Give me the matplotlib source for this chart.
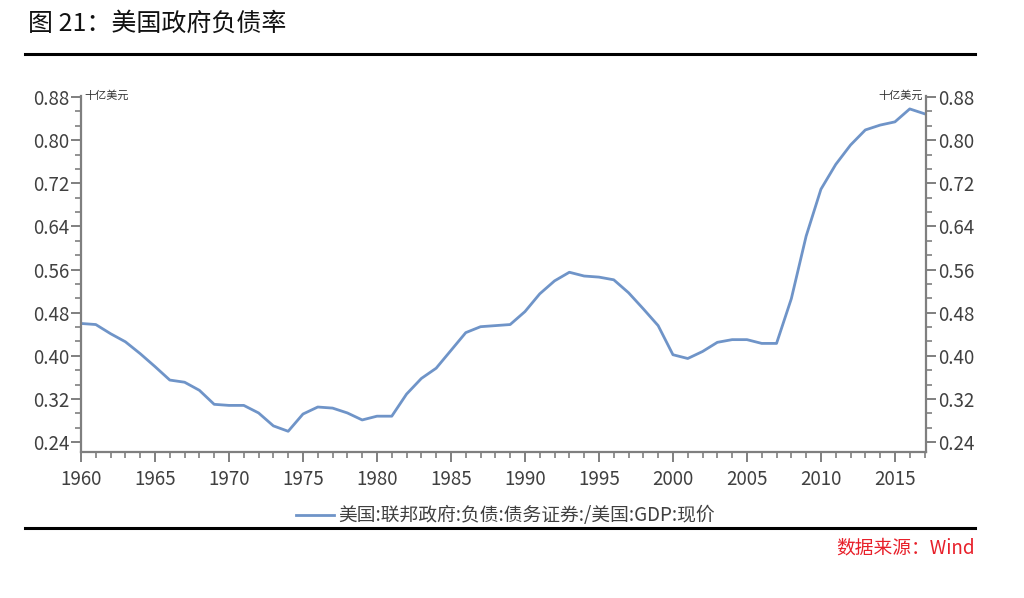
import matplotlib
matplotlib.use("Agg")
import matplotlib.pyplot as plt
from matplotlib.ticker import MultipleLocator
from matplotlib.lines import Line2D

plt.rcParams["font.family"] = ["Noto Sans CJK SC", "DejaVu Sans"]

# ── data ─────────────────────────────────────────────────────────────────────
years = list(range(1960, 2018))
ratio = [0.460, 0.458, 0.441, 0.426, 0.404, 0.380, 0.355, 0.351, 0.336, 0.310,
         0.308, 0.308, 0.294, 0.270, 0.260, 0.292, 0.305, 0.303, 0.294, 0.281,
         0.288, 0.288, 0.329, 0.358, 0.377, 0.410, 0.443, 0.454, 0.456, 0.458,
         0.482, 0.515, 0.539, 0.555, 0.548, 0.546, 0.541, 0.517, 0.487, 0.456,
         0.402, 0.395, 0.408, 0.425, 0.430, 0.430, 0.423, 0.423, 0.506, 0.622,
         0.709, 0.755, 0.791, 0.819, 0.828, 0.834, 0.858, 0.849]
yticks = [0.24, 0.32, 0.40, 0.48, 0.56, 0.64, 0.72, 0.80, 0.88]
xticks = list(range(1960, 2016, 5))

series_label = "美国:联邦政府:负债:债务证券:/美国:GDP:现价"
title = "图 21：美国政府负债率"
source = "数据来源：Wind"
unit = "十亿美元"

LINE = "#6f94c8"
AXC = "#7f7f7f"
TXC = "#404040"

fig = plt.figure(figsize=(10.24, 5.98), dpi=100)
fig.patch.set_facecolor("white")

ax = fig.add_axes([0.0791, 0.2441, 0.8252, 0.5954])
ax.plot(years, ratio, color=LINE, lw=2.0)

ax.set_xlim(1960, 2017.1)
ax.set_ylim(0.2215, 0.882)
ax.set_xticks(xticks)
ax.xaxis.set_minor_locator(MultipleLocator(1))
ax.set_yticks(yticks)
ax.yaxis.set_minor_locator(MultipleLocator(0.08 / 3))
ax.set_yticklabels([f"{v:.2f}" for v in yticks])

ax.spines["top"].set_visible(False)
for s in ["left", "right", "bottom"]:
    ax.spines[s].set_color(AXC)
    ax.spines[s].set_linewidth(1.6)

ax.tick_params(axis="both", which="major", colors=AXC, labelcolor=TXC,
               labelsize=13.5, width=1.4, length=7, direction="out")
ax.tick_params(axis="both", which="minor", colors=AXC, width=1.2,
               length=4, direction="out")
ax.tick_params(axis="y", which="both", left=True, right=True,
               labelleft=True, labelright=True, pad=1.5)
ax.tick_params(axis="x", which="major", pad=5)

ax.text(0.004, 1.0, unit, transform=ax.transAxes, fontsize=8,
        color="#333333", ha="left", va="center")
ax.text(0.996, 1.0, unit, transform=ax.transAxes, fontsize=8,
        color="#333333", ha="right", va="center")

# legend below the axes
fig.add_artist(Line2D([296 / 1024, 334 / 1024], [1 - 515 / 598] * 2,
                      color=LINE, lw=2.0))
fig.text(338 / 1024, 1 - 515 / 598, series_label, fontsize=13.5,
         color=TXC, ha="left", va="center")

# title, rules and source
fig.text(28 / 1024, 1 - 24 / 598, title, fontsize=18, color="#111111",
         ha="left", va="center")
fig.add_artist(Line2D([25 / 1024, 975 / 1024], [1 - 54 / 598] * 2,
                      color="black", lw=2.2))
fig.add_artist(Line2D([25 / 1024, 975 / 1024], [1 - 528 / 598] * 2,
                      color="black", lw=2.2))
fig.text(975 / 1024, 1 - 548 / 598, source, fontsize=13.5, color="#e8202a",
         ha="right", va="center", style="italic")

fig.savefig("out.png", dpi=100, facecolor="white")
